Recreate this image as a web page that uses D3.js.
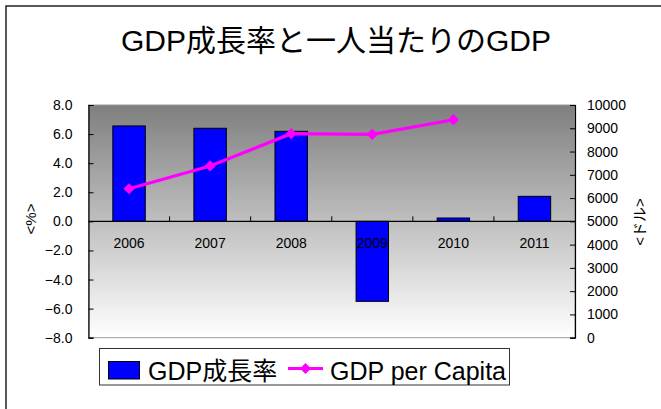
<!DOCTYPE html>
<html>
<head>
<meta charset="utf-8">
<script src="https://cdn.jsdelivr.net/npm/d3@7"></script>
<style>
  html, body { margin: 0; padding: 0; background: #fff; }
  svg { display: block; }
  text { font-family: "Liberation Sans", Arial, "Noto Sans CJK JP", sans-serif; fill: #000; }
</style>
</head>
<body>
<svg id="chart" width="661" height="409"></svg>
<script>
const title = "GDP成長率と一人当たりのGDP";
const years = ["2006", "2007", "2008", "2009", "2010", "2011"];
const growthRate = [6.56, 6.40, 6.19, -5.50, 0.23, 1.72];
const gdpPerCapita = [6400, 7380, 8767, 8741, 9368, null];
const leftTicks = [-8, -6, -4, -2, 0, 2, 4, 6, 8];
const rightTicks = [0, 1000, 2000, 3000, 4000, 5000, 6000, 7000, 8000, 9000, 10000];
const seriesNames = ["GDP成長率", "GDP per Capita"];
const leftAxisTitle = "<%>";
const rightAxisTitle = "<ドル>";

const svg = d3.select("#chart");
const plot = { left: 88.5, right: 575, top: 105, bottom: 337.7 };

// outer frame
svg.append("rect").attr("x", 6).attr("y", 6).attr("width", 720).attr("height", 500)
  .attr("fill", "none").attr("stroke", "#000").attr("stroke-width", 1.3);

// title
svg.append("text").attr("x", 336).attr("y", 51).attr("text-anchor", "middle")
  .attr("font-size", 30).text(title);

// gradient
const defs = svg.append("defs");
const grad = defs.append("linearGradient").attr("id", "bg").attr("x1", 0).attr("y1", 0).attr("x2", 0).attr("y2", 1);
grad.append("stop").attr("offset", "0%").attr("stop-color", "#7f7f7f");
grad.append("stop").attr("offset", "100%").attr("stop-color", "#ffffff");

svg.append("rect").attr("x", plot.left).attr("y", plot.top)
  .attr("width", plot.right - plot.left).attr("height", plot.bottom - plot.top)
  .attr("fill", "url(#bg)").attr("stroke", "#9a9a9a").attr("stroke-width", 1);

// scales
const xCat = d3.scaleBand().domain(years).range([plot.left, plot.right]).padding(0);
const xBar = d3.scaleBand().domain(years).range([plot.left, plot.right]).paddingInner(0.6).paddingOuter(0.3);
const yL = d3.scaleLinear().domain([-8, 8]).range([plot.bottom, plot.top]);
const yR = d3.scaleLinear().domain([0, 10000]).range([plot.bottom, plot.top]);

// bars
svg.append("g").selectAll("rect").data(years).join("rect")
  .attr("x", d => xBar(d))
  .attr("width", xBar.bandwidth())
  .attr("y", (d, i) => yL(Math.max(0, growthRate[i])))
  .attr("height", (d, i) => Math.abs(yL(growthRate[i]) - yL(0)))
  .attr("fill", "#0000ff").attr("stroke", "#000").attr("stroke-width", 1);

// category axis at zero
const catAxis = svg.append("g").attr("transform", `translate(0,${yL(0)})`);
catAxis.append("line").attr("x1", plot.left).attr("x2", plot.right).attr("y1", 0).attr("y2", 0)
  .attr("stroke", "#000").attr("stroke-width", 1.2);
const boundaries = years.slice(1).map(d => xCat(d));
catAxis.selectAll("line.tick").data(boundaries).join("line").attr("class", "tick")
  .attr("x1", d => d).attr("x2", d => d).attr("y1", 0).attr("y2", -5)
  .attr("stroke", "#000").attr("stroke-width", 1);
catAxis.selectAll("text").data(years).join("text")
  .attr("x", d => xCat(d) + xCat.bandwidth() / 2).attr("y", 27)
  .attr("text-anchor", "middle").attr("font-size", 14).text(d => d);

// left axis
const leftAxis = d3.axisLeft(yL).tickValues(leftTicks).tickSize(-5).tickPadding(16).tickFormat(d3.format(".1f"));
const gL = svg.append("g").attr("transform", `translate(${plot.left},0)`).call(leftAxis);
gL.select(".domain").attr("stroke", "#000").attr("stroke-width", 1.2);
gL.selectAll(".tick line").attr("stroke", "#000");
gL.selectAll(".tick text").attr("font-size", 14).attr("font-family", null).attr("fill", "#000");

// right axis
const rightAxis = d3.axisRight(yR).tickValues(rightTicks).tickSize(-5).tickPadding(12).tickFormat(d3.format("d"));
const gR = svg.append("g").attr("transform", `translate(${plot.right},0)`).call(rightAxis);
gR.select(".domain").attr("stroke", "#000").attr("stroke-width", 1.2);
gR.selectAll(".tick line").attr("stroke", "#000");
gR.selectAll(".tick text").attr("font-size", 14).attr("font-family", null).attr("fill", "#000");

// axis titles
svg.append("text").attr("transform", "translate(36,219) rotate(-90)")
  .attr("text-anchor", "middle").attr("font-size", 15).text(leftAxisTitle);
svg.append("text").attr("transform", "translate(645,222) rotate(-90)")
  .attr("text-anchor", "middle").attr("font-size", 15).text(rightAxisTitle);

// line series
const pts = years.map((d, i) => ({ x: xCat(d) + xCat.bandwidth() / 2, v: gdpPerCapita[i] })).filter(p => p.v !== null);
const line = d3.line().x(p => p.x).y(p => yR(p.v));
svg.append("path").attr("d", line(pts)).attr("fill", "none")
  .attr("stroke", "#ff00ff").attr("stroke-width", 3.2);
const diamond = d3.symbol().type(d3.symbolDiamond2).size(80);
svg.append("g").selectAll("path").data(pts).join("path")
  .attr("transform", p => `translate(${p.x},${yR(p.v)})`)
  .attr("d", diamond).attr("fill", "#ff00ff");

// legend
const lg = svg.append("g");
lg.append("rect").attr("x", 99.5).attr("y", 348.5).attr("width", 410).attr("height", 36.5)
  .attr("fill", "#fff").attr("stroke", "#333").attr("stroke-width", 1);
lg.append("rect").attr("x", 108.5).attr("y", 361.5).attr("width", 31).attr("height", 17.5)
  .attr("fill", "#0000ff").attr("stroke", "#000").attr("stroke-width", 1);
lg.append("text").attr("x", 148).attr("y", 380).attr("font-size", 25).text(seriesNames[0]);
lg.append("line").attr("x1", 288).attr("x2", 323).attr("y1", 368.5).attr("y2", 368.5)
  .attr("stroke", "#ff00ff").attr("stroke-width", 3);
lg.append("path").attr("transform", "translate(305.5,368.5)").attr("d", diamond).attr("fill", "#ff00ff");
lg.append("text").attr("x", 330).attr("y", 380).attr("font-size", 25).text(seriesNames[1]);
</script>
</body>
</html>
